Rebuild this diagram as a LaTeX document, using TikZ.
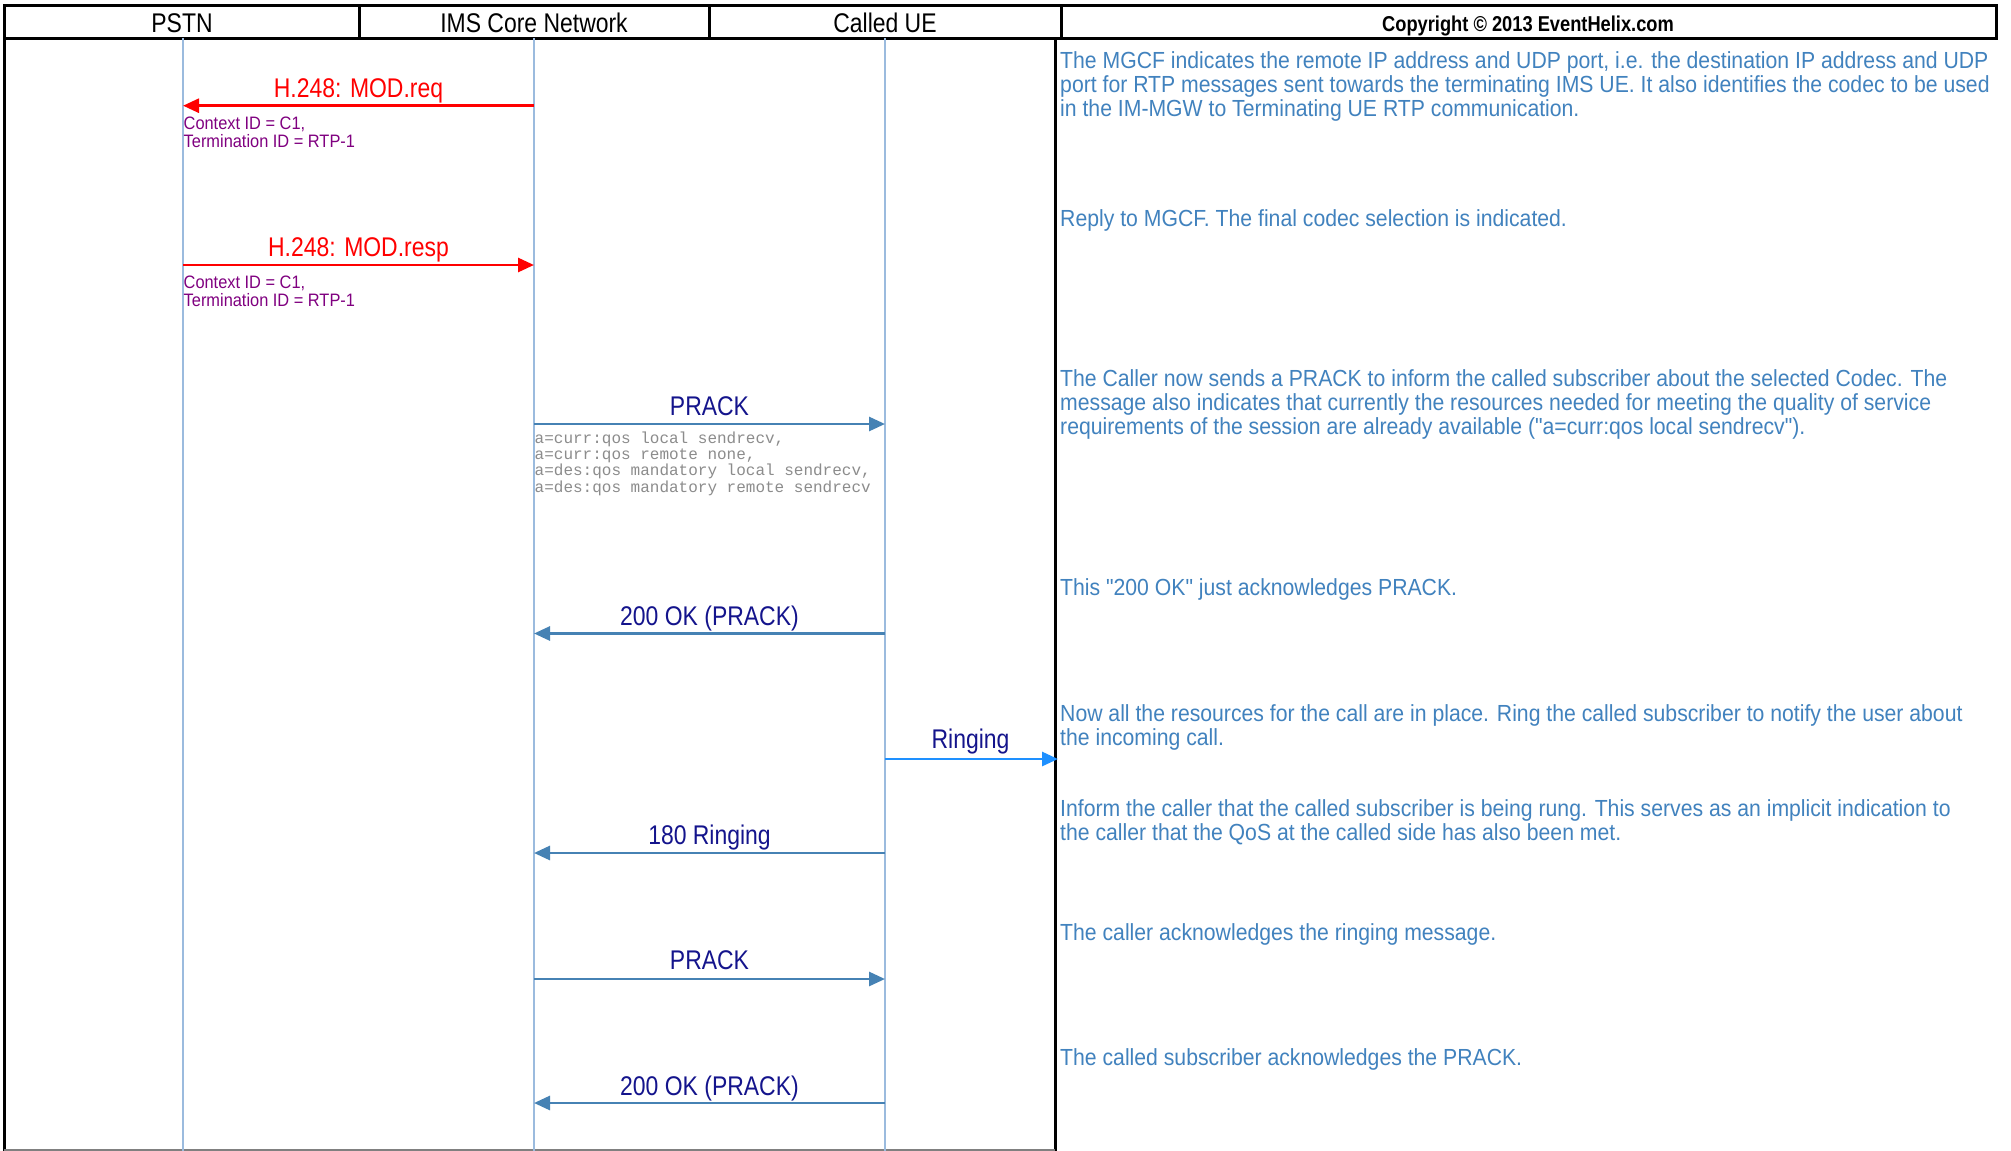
\documentclass[tikz,border=0pt]{standalone}
\usepackage{fontspec}
\setmainfont{Liberation Sans}
\setmonofont{Liberation Mono}
\newfontfamily\lblfont{Liberation Sans}[FakeStretch=0.85]
\newfontfamily\notefont{Liberation Sans}[FakeStretch=0.91]
\usetikzlibrary{arrows.meta}
\definecolor{lifec}{RGB}{155,187,222}
\definecolor{sipc}{RGB}{70,130,180}
\definecolor{ringc}{RGB}{30,144,255}
\definecolor{navyc}{RGB}{20,20,140}
\definecolor{notec}{RGB}{65,130,190}
\definecolor{ctxc}{RGB}{128,0,128}
\definecolor{monoc}{RGB}{140,140,140}
\newcommand\tlines[1]{\begin{tabular}[t]{@{}l@{}}#1\end{tabular}}
\tikzset{
  border/.style={draw=black,line width=3pt},
  lifeline/.style={draw=lifec,line width=1.8pt},
  msg/.style={line width=2.8pt,-{Triangle[length=16pt,width=14pt]}},
  sipmsg/.style={msg,draw=sipc},
  h248msg/.style={msg,draw=red},
  ringmsg/.style={msg,draw=ringc},
  hdr/.style={inner sep=0pt,anchor=base,font=\lblfont\fontsize{27}{27}\selectfont},
  copyr/.style={inner sep=0pt,anchor=base,font=\lblfont\bfseries\fontsize{21.5}{21.5}\selectfont},
  lbl/.style={inner sep=0pt,anchor=base,text=navyc,font=\lblfont\fontsize{27}{27}\selectfont},
  redlbl/.style={lbl,text=red},
  ctx/.style={inner sep=0pt,anchor=base west,text=ctxc,font=\notefont\fontsize{18}{18.5}\selectfont},
  mono/.style={inner sep=0pt,anchor=base west,text=monoc,font=\ttfamily\fontsize{16}{16}\selectfont},
  note/.style={inner sep=0pt,anchor=base west,text=notec,font=\notefont\fontsize{23.3}{23.3}\selectfont},
}
\begin{document}
\begin{tikzpicture}[x=1pt,y=-1pt]
\useasboundingbox (0,0) rectangle (2011,1151);
\fill[white] (0,0) rectangle (2011,1151);
% header
\draw[border] (4,5) rectangle (1996,38);
\draw[border] (359,5) -- (359,38);
\draw[border] (709,5) -- (709,38);
\draw[border] (1061,5) -- (1061,38);
\node[hdr] (hp) at (182,32) {PSTN};
\node[hdr] (hi) at (534,32) {IMS Core Network};
\node[hdr] (hu) at (885,32) {Called UE};
\node[copyr] (hc) at (1528,31) {Copyright \textcopyright{} 2013 EventHelix.com};
% body frame
\draw[border] (4,38) -- (4,1151);
\draw[border] (1055,38) -- (1055,1151);
\draw[draw=gray,line width=2pt] (4,1150) -- (1055,1150);
% lifelines
\coordinate (pT) at (183,38); \coordinate (pB) at (183,1151);
\coordinate (iT) at (534,38); \coordinate (iB) at (534,1151);
\coordinate (uT) at (885,38); \coordinate (uB) at (885,1151);
\draw[lifeline] (pT) -- (pB);
\draw[lifeline] (iT) -- (iB);
\draw[lifeline] (uT) -- (uB);
% message end points
\coordinate (m1i) at (534,105.7); \coordinate (m1p) at (183,105.7);
\coordinate (m2p) at (183,265); \coordinate (m2i) at (534,265);
\coordinate (m3i) at (534,424); \coordinate (m3u) at (885,424);
\coordinate (m4u) at (885,633.5); \coordinate (m4i) at (534,633.5);
\coordinate (m5u) at (885,759); \coordinate (m5r) at (1058,759);
\coordinate (m6u) at (885,853); \coordinate (m6i) at (534,853);
\coordinate (m7i) at (534,979); \coordinate (m7u) at (885,979);
\coordinate (m8u) at (885,1103); \coordinate (m8i) at (534,1103);
% messages
\draw[h248msg] (m1i) -- (m1p);
\node[redlbl] (l1) at (358.5,97.3) {H.248: MOD.req};
\node[ctx] (c1) at (183.5,129) {\tlines{Context ID = C1,\\Termination ID = RTP-1}};
\draw[h248msg] (m2p) -- (m2i);
\node[redlbl] (l2) at (358.5,256.3) {H.248: MOD.resp};
\node[ctx] (c2) at (183.5,288) {\tlines{Context ID = C1,\\Termination ID = RTP-1}};
\draw[sipmsg] (m3i) -- (m3u);
\node[lbl] (l3) at (709.5,415) {PRACK};
\node[mono] (d3) at (534.5,443.3) {\tlines{a=curr:qos local sendrecv,\\a=curr:qos remote none,\\a=des:qos mandatory local sendrecv,\\a=des:qos mandatory remote sendrecv}};
\draw[sipmsg] (m4u) -- (m4i);
\node[lbl] (l4) at (709.5,625) {200 OK (PRACK)};
\draw[ringmsg] (m5u) -- (m5r);
\node[lbl] (l5) at (970.5,748.3) {Ringing};
\draw[sipmsg] (m6u) -- (m6i);
\node[lbl] (l6) at (709.5,844.5) {180 Ringing};
\draw[sipmsg] (m7i) -- (m7u);
\node[lbl] (l7) at (709.5,969.3) {PRACK};
\draw[sipmsg] (m8u) -- (m8i);
\node[lbl] (l8) at (709.5,1095) {200 OK (PRACK)};
% notes
\node[note] (n1) at (1060,68.3) {\tlines{The MGCF indicates the remote IP address and UDP port, i.e. the destination IP address and UDP\\port for RTP messages sent towards the terminating IMS UE. It also identifies the codec to be used\\in the IM-MGW to Terminating UE RTP communication.}};
\node[note] (n2) at (1060,226.5) {\tlines{Reply to MGCF. The final codec selection is indicated.}};
\node[note] (n3) at (1060,386.3) {\tlines{The Caller now sends a PRACK to inform the called subscriber about the selected Codec. The\\message also indicates that currently the resources needed for meeting the quality of service\\requirements of the session are already available ("a=curr:qos local sendrecv").}};
\node[note] (n4) at (1060,595.3) {\tlines{This "200 OK" just acknowledges PRACK.}};
\node[note] (n5) at (1060,721.3) {\tlines{Now all the resources for the call are in place. Ring the called subscriber to notify the user about\\the incoming call.}};
\node[note] (n6) at (1060,816.3) {\tlines{Inform the caller that the called subscriber is being rung. This serves as an implicit indication to\\the caller that the QoS at the called side has also been met.}};
\node[note] (n7) at (1060,940.3) {\tlines{The caller acknowledges the ringing message.}};
\node[note] (n8) at (1060,1065.3) {\tlines{The called subscriber acknowledges the PRACK.}};
\end{tikzpicture}
\end{document}
